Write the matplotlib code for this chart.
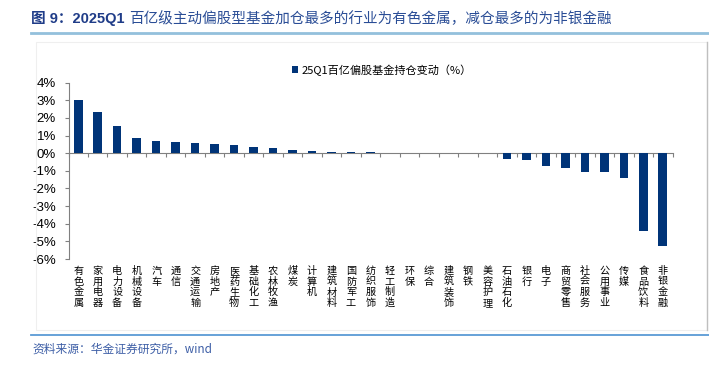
import matplotlib
matplotlib.use("Agg")
import matplotlib.pyplot as plt
import numpy as np
from matplotlib.lines import Line2D
from matplotlib.patches import Rectangle
from matplotlib.ticker import FuncFormatter

plt.rcParams['font.family'] = ['Noto Sans CJK SC', 'DejaVu Sans']

categories = ["有色金属", "家用电器", "电力设备", "机械设备", "汽车", "通信", "交通运输", "房地产",
              "医药生物", "基础化工", "农林牧渔", "煤炭", "计算机", "建筑材料", "国防军工", "纺织服饰",
              "轻工制造", "环保", "综合", "建筑装饰", "钢铁", "美容护理", "石油石化", "银行", "电子",
              "商贸零售", "社会服务", "公用事业", "传媒", "食品饮料", "非银金融"]
values = [3.00, 2.33, 1.57, 0.84, 0.69, 0.61, 0.57, 0.54, 0.44, 0.33, 0.27, 0.17, 0.11, 0.08,
          0.06, 0.05, 0.03, 0.02, 0.01, 0.00, 0.00, -0.01, -0.34, -0.38, -0.73, -0.82, -1.05,
          -1.05, -1.43, -4.40, -5.27]
series_name = "25Q1百亿偏股基金持仓变动（%）"
title_bold = "图 9：2025Q1 "
title_rest = "百亿级主动偏股型基金加仓最多的行业为有色金属，减仓最多的为非银金融"
source = "资料来源：华金证券研究所，wind"
yticks = [-6, -5, -4, -3, -2, -1, 0, 1, 2, 3, 4]

W, H = 709, 366
fig = plt.figure(figsize=(W / 100, H / 100), dpi=100)

def fx(px):
    return px / W

def fy(py):
    return 1 - py / H

# chart frame
fig.patches.append(Rectangle((fx(36), fy(330)), fx(707) - fx(36), fy(42) - fy(330),
                             transform=fig.transFigure, fill=False, edgecolor='#efefef', lw=0.8))
fig.add_artist(Line2D([fx(707), fx(707)], [fy(42), fy(330)], transform=fig.transFigure,
                      color='#bfbfbf', lw=1.0))

ax = fig.add_axes([fx(68.5), fy(259), fx(672.5) - fx(68.5), fy(82.7) - fy(259)])
n = len(categories)
x = np.arange(n)
bars = ax.bar(x, values, width=0.44, color='#003478', label=series_name, zorder=3)

ax.set_xlim(-0.5, n - 0.5)
ax.set_ylim(-6, 4)
ax.set_yticks(yticks)
ax.yaxis.set_major_formatter(FuncFormatter(lambda v, p: f"{int(round(v))}%"))
for lab in ax.get_yticklabels():
    lab.set_fontfamily(['Liberation Sans', 'DejaVu Sans'])
ax.tick_params(axis='y', direction='out', length=3, width=0.8, color='#808080', pad=6,
               labelsize=9.5, labelcolor='#000000')

ax.spines['top'].set_visible(False)
ax.spines['right'].set_visible(False)
ax.spines['left'].set_color('#808080')
ax.spines['bottom'].set_position(('data', 0))
ax.spines['bottom'].set_color('#808080')
ax.set_xticks(np.arange(n + 1) - 0.5)
ax.set_xticklabels([])
ax.tick_params(axis='x', direction='out', length=3, width=0.8, color='#808080')

for i, name in enumerate(categories):
    ax.annotate("\n".join(name), xy=(i, 0), xycoords=('data', 'axes fraction'),
                xytext=(0, -5), textcoords='offset points', ha='center', va='top',
                fontsize=7.3, linespacing=1.08, color='#000000')

leg = ax.legend(loc='center', bbox_to_anchor=(fx(382), fy(70)), bbox_transform=fig.transFigure,
                frameon=False, fontsize=8, handlelength=0.55, handleheight=0.55, handletextpad=0.3,
                borderpad=0)

# title
t1 = fig.text(fx(31), fy(19), title_bold, fontsize=10.5, fontweight='bold', color='#1f3c88',
              va='center', ha='left', family=['Liberation Sans', 'Noto Sans CJK SC'])
fig.canvas.draw()
bb = t1.get_window_extent()
fig.text(bb.x1 / W, fy(19), title_rest, fontsize=10.5, color='#2a4d96', va='center', ha='left')
fig.add_artist(Line2D([fx(31), 1], [fy(32.5), fy(32.5)], transform=fig.transFigure,
                      color='#93c0dc', lw=2.0))

# footnote
fig.add_artist(Line2D([fx(31), 1], [fy(335), fy(335)], transform=fig.transFigure,
                      color='#5b9bd5', lw=1.3))
fig.text(fx(32), fy(349), source, fontsize=8.5, style='italic', color='#3d5ea6', va='center',
         ha='left')

fig.savefig("out.png", dpi=100)
